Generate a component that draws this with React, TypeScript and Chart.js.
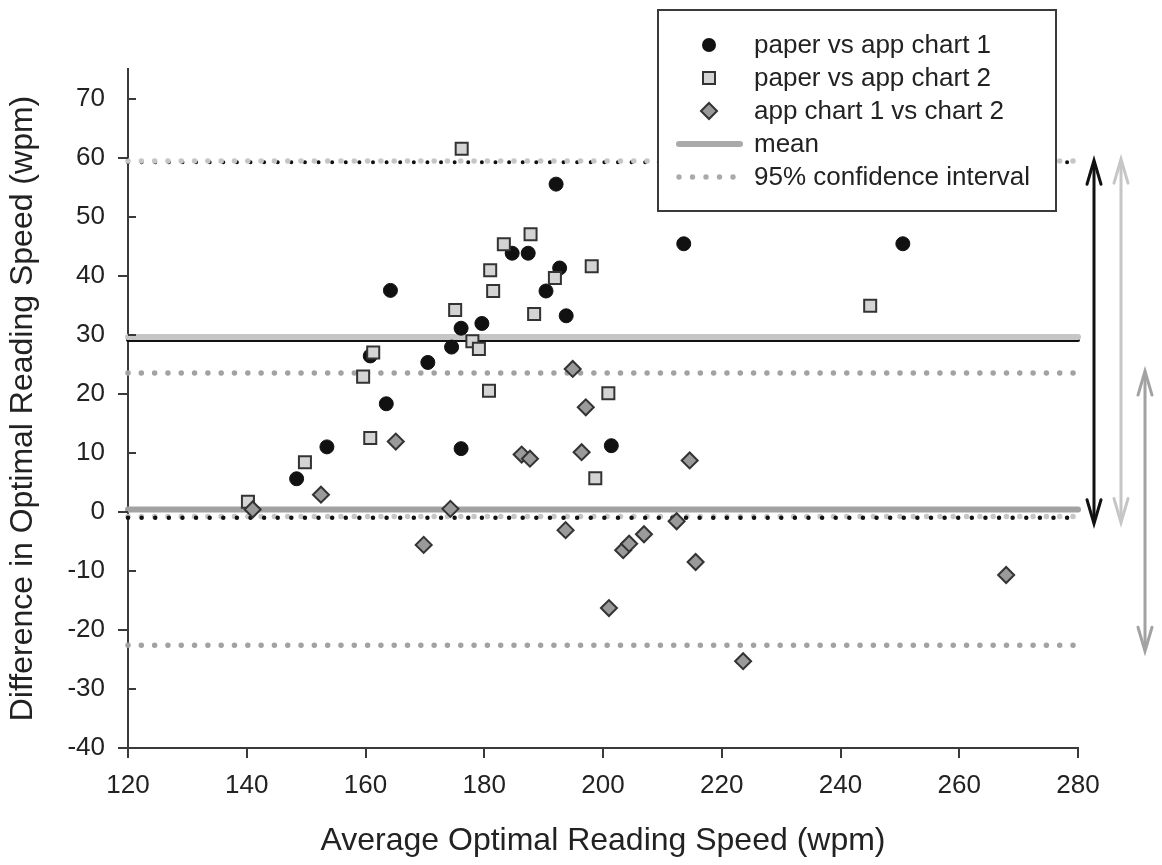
import React, { useEffect, useRef } from "react";
import { Chart, registerables } from "chart.js";

Chart.register(...registerables);

// ---- axis ranges / ticks ----
const xMin = 120;
const xMax = 280;
const xStep = 20;
const yMin = -40;
const yMax = 75;
const yStep = 10;

// ---- titles and legend labels ----
const xTitle = "Average Optimal Reading Speed (wpm)";
const yTitle = "Difference in Optimal Reading Speed (wpm)";
const legendLabels = [
  "paper vs app chart 1",
  "paper vs app chart 2",
  "app chart 1 vs chart 2",
  "mean",
  "95% confidence interval",
];

// ---- series: paper vs app chart 1 (black circles) ----
const paper1X = [148.4, 153.5, 160.8, 163.5, 164.2, 170.5, 174.5, 176.1, 176.1, 179.6, 184.7, 187.4, 190.4, 192.1, 192.7, 193.8, 201.4, 213.6, 250.5];
const paper1Y = [5.6, 11.0, 26.4, 18.3, 37.5, 25.3, 27.9, 31.1, 10.7, 31.9, 43.8, 43.8, 37.4, 55.5, 41.3, 33.2, 11.2, 45.4, 45.4];

// ---- series: paper vs app chart 2 (light squares) ----
const paper2X = [140.2, 149.8, 159.6, 160.8, 161.3, 175.1, 176.2, 178.0, 179.1, 180.8, 181.0, 181.5, 183.3, 187.8, 188.4, 191.9, 198.1, 198.7, 200.9, 245.0];
const paper2Y = [1.7, 8.4, 22.9, 12.5, 27.0, 34.2, 61.5, 28.9, 27.6, 20.5, 40.9, 37.4, 45.3, 47.0, 33.5, 39.6, 41.6, 5.7, 20.1, 34.9];

// ---- series: app chart 1 vs chart 2 (grey diamonds) ----
const appX = [141.0, 152.5, 165.1, 169.8, 174.3, 186.3, 187.7, 193.7, 194.9, 196.4, 197.1, 201.0, 203.4, 204.4, 206.9, 212.4, 214.6, 215.6, 223.6, 267.9];
const appY = [0.4, 2.9, 11.9, -5.6, 0.5, 9.7, 9.0, -3.1, 24.2, 10.1, 17.7, -16.3, -6.5, -5.4, -3.8, -1.6, 8.7, -8.5, -25.3, -10.7];

// ---- mean and 95% limits ----
const paper1Stats = [29.1, 59.2, -1.0]; // mean, upper, lower
const paper2Stats = [29.6, 59.4, -0.8];
const appStats = [0.4, 23.5, -22.6];

const BLACK = "#111111";
const LIGHT = "#c6c6c6";
const MID = "#a2a2a2";
const AXIS = "#3a3a3a";
const TEXT = "#222222";
const FONT = "'Liberation Sans', Arial, Helvetica, sans-serif";

const hLine = (y: number) => [
  { x: xMin, y },
  { x: xMax, y },
];

const pts = (xs: number[], ys: number[]) => xs.map((x, i) => ({ x, y: ys[i] }));

const dotted = (y: number, color: string, width: number, gap: number, order: number) => ({
  label: "ci",
  data: hLine(y),
  showLine: true,
  pointRadius: 0,
  borderColor: color,
  borderWidth: width,
  borderDash: [0.01, gap],
  borderCapStyle: "round",
  order,
  clip: 10,
});

const solid = (y: number, color: string, width: number, order: number) => ({
  label: "mean",
  data: hLine(y),
  showLine: true,
  pointRadius: 0,
  borderColor: color,
  borderWidth: width,
  borderCapStyle: "round",
  order,
  clip: 10,
});

const yTickMarks = {
  id: "yTickMarks",
  afterDraw(chart: any) {
    const s = chart.scales.y;
    const ctx = chart.ctx;
    const left = chart.chartArea.left;
    ctx.save();
    ctx.strokeStyle = AXIS;
    ctx.lineWidth = 2;
    s.ticks.forEach((t: any) => {
      const py = Math.round(s.getPixelForValue(t.value));
      ctx.beginPath();
      if (t.value % 20 === 0) {
        ctx.moveTo(left - 10, py);
        ctx.lineTo(left, py);
      } else {
        ctx.moveTo(left, py);
        ctx.lineTo(left + 8, py);
      }
      ctx.stroke();
    });
    ctx.restore();
  },
};

function drawArrow(ctx: CanvasRenderingContext2D, x: number, yTop: number, yBot: number, color: string) {
  ctx.save();
  ctx.strokeStyle = color;
  ctx.lineWidth = 3;
  ctx.lineCap = "round";
  ctx.lineJoin = "miter";
  ctx.beginPath();
  ctx.moveTo(x, yTop + 2);
  ctx.lineTo(x, yBot - 2);
  ctx.stroke();
  ctx.beginPath();
  ctx.moveTo(x - 7, yTop + 24);
  ctx.lineTo(x, yTop);
  ctx.lineTo(x + 7, yTop + 24);
  ctx.moveTo(x - 7, yBot - 24);
  ctx.lineTo(x, yBot);
  ctx.lineTo(x + 7, yBot - 24);
  ctx.stroke();
  ctx.restore();
}

const arrowsPlugin = {
  id: "ciArrows",
  afterDraw(chart: any) {
    const s = chart.scales.y;
    const ctx = chart.ctx;
    const r = chart.chartArea.right;
    const sets: [number[], string, number][] = [
      [paper1Stats, BLACK, 16],
      [paper2Stats, LIGHT, 43],
      [appStats, MID, 67],
    ];
    sets.forEach(([st, color, dx]) => {
      const yTop = s.getPixelForValue(st[1]) - 2;
      const yBot = s.getPixelForValue(st[2]) + 6;
      drawArrow(ctx, r + dx, yTop, yBot, color);
    });
  },
};

const legendPlugin = {
  id: "boxLegend",
  afterDraw(chart: any) {
    const ctx = chart.ctx;
    const right = chart.chartArea.right - 22;
    const left = right - 398;
    const top = 10;
    const h = 201;
    ctx.save();
    ctx.fillStyle = "#ffffff";
    ctx.fillRect(left, top, right - left, h);
    ctx.strokeStyle = AXIS;
    ctx.lineWidth = 2;
    ctx.strokeRect(left, top, right - left, h);

    const sx = left + 51;
    const tx = left + 96;
    const rowY = (i: number) => top + 35 + i * 33;

    // circle
    ctx.beginPath();
    ctx.fillStyle = BLACK;
    ctx.arc(sx, rowY(0), 7, 0, Math.PI * 2);
    ctx.fill();
    // square
    ctx.fillStyle = "#d4d4d4";
    ctx.strokeStyle = "#333";
    ctx.lineWidth = 2;
    ctx.fillRect(sx - 6, rowY(1) - 6, 12, 12);
    ctx.strokeRect(sx - 6, rowY(1) - 6, 12, 12);
    // diamond
    ctx.beginPath();
    ctx.moveTo(sx, rowY(2) - 8);
    ctx.lineTo(sx + 8, rowY(2));
    ctx.lineTo(sx, rowY(2) + 8);
    ctx.lineTo(sx - 8, rowY(2));
    ctx.closePath();
    ctx.fillStyle = "#9a9a9a";
    ctx.fill();
    ctx.stroke();
    // mean line
    ctx.beginPath();
    ctx.strokeStyle = "#aaaaaa";
    ctx.lineWidth = 6;
    ctx.lineCap = "round";
    ctx.moveTo(left + 21, rowY(3));
    ctx.lineTo(left + 82, rowY(3));
    ctx.stroke();
    // dotted
    ctx.fillStyle = "#aaaaaa";
    for (let k = 0; k < 5; k++) {
      ctx.beginPath();
      ctx.arc(left + 21 + k * 13.5, rowY(4), 2.7, 0, Math.PI * 2);
      ctx.fill();
    }
    // text
    ctx.fillStyle = TEXT;
    ctx.font = `26px ${FONT}`;
    ctx.textBaseline = "middle";
    ctx.textAlign = "left";
    legendLabels.forEach((t, i) => ctx.fillText(t, tx, rowY(i) + 1));
    ctx.restore();
  },
};

export default function App() {
  const ref = useRef<HTMLCanvasElement | null>(null);

  useEffect(() => {
    if (!ref.current) return;
    Chart.defaults.font.family = FONT;
    const datasets: any[] = [
      {
        label: legendLabels[0],
        data: pts(paper1X, paper1Y),
        pointStyle: "circle",
        pointRadius: 7,
        backgroundColor: BLACK,
        borderColor: BLACK,
        borderWidth: 1,
        order: 3,
      },
      {
        label: legendLabels[1],
        data: pts(paper2X, paper2Y),
        pointStyle: "rect",
        pointRadius: 8.5,
        backgroundColor: "#d4d4d4",
        borderColor: "#333333",
        borderWidth: 2,
        order: 2,
      },
      {
        label: legendLabels[2],
        data: pts(appX, appY),
        pointStyle: "rectRot",
        pointRadius: 8,
        backgroundColor: "#9a9a9a",
        borderColor: "#333333",
        borderWidth: 2,
        order: 1,
      },
      dotted(paper1Stats[1], BLACK, 4, 13.6, 30),
      dotted(paper2Stats[1], LIGHT, 5.5, 13.3, 29),
      solid(paper1Stats[0], BLACK, 4, 28),
      solid(paper2Stats[0], LIGHT, 6, 27),
      dotted(appStats[1], MID, 5.5, 13.3, 26),
      dotted(appStats[2], MID, 5.5, 13.3, 25),
      dotted(paper2Stats[2], LIGHT, 5.5, 13.3, 24),
      dotted(paper1Stats[2], BLACK, 4.5, 13.6, 23),
      solid(appStats[0], MID, 6, 22),
    ];

    const chart = new Chart(ref.current, {
      type: "scatter",
      data: { datasets },
      options: {
        animation: false,
        responsive: false,
        devicePixelRatio: 1,
        layout: { padding: { top: 69, right: 84, bottom: 0, left: 0 } },
        plugins: {
          legend: { display: false },
          tooltip: { enabled: false },
        },
        events: [],
        scales: {
          x: {
            type: "linear",
            min: xMin,
            max: xMax,
            afterFit: (s: any) => {
              s.height = 117;
            },
            ticks: {
              stepSize: xStep,
              padding: 12,
              color: TEXT,
              font: { size: 26, family: FONT },
              maxRotation: 0,
            },
            grid: {
              display: true,
              drawOnChartArea: false,
              drawTicks: true,
              tickLength: 10,
              color: AXIS,
              lineWidth: 2,
            },
            border: { display: true, color: AXIS, width: 2 },
            title: {
              display: true,
              text: xTitle,
              color: TEXT,
              font: { size: 32, family: FONT },
              padding: { top: 0, bottom: 5 },
            },
          },
          y: {
            type: "linear",
            min: yMin,
            max: yMax,
            afterFit: (s: any) => {
              s.width = 128;
            },
            ticks: {
              stepSize: yStep,
              includeBounds: false,
              padding: 23,
              color: TEXT,
              font: { size: 26, family: FONT },
            },
            grid: { display: false, drawTicks: false },
            border: { display: true, color: AXIS, width: 2 },
            title: {
              display: true,
              text: yTitle,
              color: TEXT,
              font: { size: 32, family: FONT },
              padding: { top: 4, bottom: 0 },
            },
          },
        },
      } as any,
      plugins: [yTickMarks, arrowsPlugin, legendPlugin],
    });
    return () => chart.destroy();
  }, []);

  return (
    <div style={{ position: "absolute", left: 0, top: 0, width: 1162, height: 865, background: "#ffffff" }}>
      <canvas ref={ref} width={1162} height={865} />
    </div>
  );
}
